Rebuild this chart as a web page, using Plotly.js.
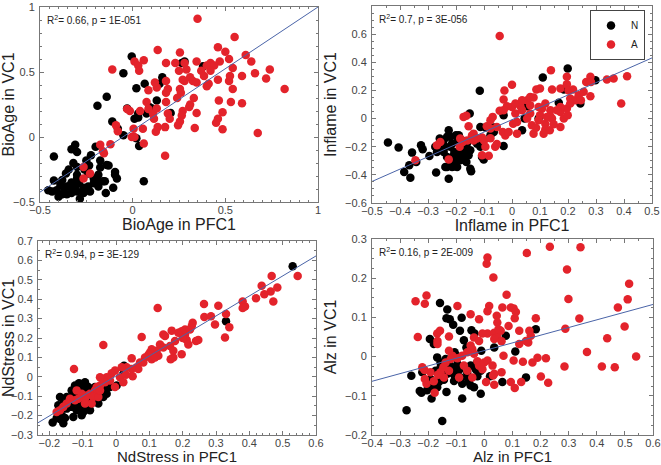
<!DOCTYPE html>
<html>
<head>
<meta charset="utf-8">
<script src="https://cdn.plot.ly/plotly-3.0.1.min.js"></script>
<style>html,body{margin:0;padding:0;background:#fff}#chart{width:661px;height:465px}</style>
</head>
<body>
<div id="chart"></div>
<script>
// ---------- Data ----------
const groupNames = ["N", "A"];
const panelTitlesX = ["BioAge in PFC1", "Inflame in PFC1", "NdStress in PFC1", "Alz in PFC1"];
const panelTitlesY = ["BioAge in VC1", "Inflame in VC1", "NdStress in VC1", "Alz in VC1"];
const statTexts = ["R<sup>2</sup>= 0.66, p = 1E-051", "R<sup>2</sup>= 0.7, p = 3E-056",
                   "R<sup>2</sup>= 0.94, p = 3E-129", "R<sup>2</sup>= 0.16, p = 2E-009"];

// Panel 1: BioAge
const bioAgeN = [[-0.005,0.62],[-0.05,0.49],[-0.14,0.31],[-0.19,0.24],[-0.03,0.22],[0.02,0.375],[0.065,0.41],[0.16,0.46],[0.145,0.41],[0.13,0.28],[0.09,0.23],[0.105,0.22],[0.075,0.18],[0.03,0.18],[0.01,0.14],[0.03,0.15],[0.205,0.185],[0.265,0.57],[0.28,0.58],[0.38,0.545],[-0.11,0.12],[-0.08,0.063],[-0.05,0.013],[0.02,-0.01],[0.035,-0.07],[0.06,-0.34],[-0.425,-0.15],[-0.31,-0.06],[-0.3,-0.115],[-0.33,-0.095],[-0.2,-0.075],[-0.225,-0.14],[-0.25,-0.18],[-0.32,-0.2],[-0.3,-0.23],[-0.26,-0.25],[-0.235,-0.22],[-0.175,-0.18],[-0.14,-0.215],[-0.13,-0.22],[-0.095,-0.27],[-0.095,-0.29],[-0.085,-0.32],[-0.15,-0.34],[-0.185,-0.29],[-0.21,-0.32],[-0.24,-0.28],[-0.3,-0.29],[-0.345,-0.25],[-0.36,-0.28],[-0.38,-0.33],[-0.425,-0.335],[-0.39,-0.37],[-0.41,-0.41],[-0.37,-0.39],[-0.345,-0.38],[-0.33,-0.35],[-0.31,-0.38],[-0.29,-0.355],[-0.265,-0.39],[-0.24,-0.38],[-0.21,-0.355],[-0.185,-0.38],[-0.16,-0.34],[-0.145,-0.43],[-0.105,-0.39],[-0.285,-0.475],[-0.355,-0.44],[-0.38,-0.44],[-0.33,-0.43],[-0.4,-0.46],[-0.3,-0.42],[-0.455,-0.41],[-0.435,-0.42],[-0.355,-0.38],[-0.265,-0.43],[-0.23,-0.42],[-0.185,-0.34],[-0.3,-0.32],[-0.175,-0.235]];
const bioAgeA = [[0.35,0.91],[0.55,0.77],[0.135,0.67],[0.255,0.65],[0.46,0.69],[0.5,0.655],[0.61,0.63],[0.64,0.58],[0.52,0.6],[0.54,0.53],[0.345,0.58],[0.42,0.57],[0.47,0.58],[0.4,0.55],[0.44,0.55],[0.23,0.57],[0.28,0.57],[0.01,0.58],[0.06,0.59],[0.03,0.55],[0.035,0.51],[-0.11,0.52],[0.18,0.57],[0.25,0.51],[0.29,0.52],[0.37,0.51],[0.42,0.51],[0.46,0.44],[0.52,0.43],[0.525,0.47],[0.59,0.47],[0.66,0.49],[0.74,0.52],[0.72,0.45],[0.82,0.37],[0.59,0.26],[0.53,0.27],[0.465,0.28],[0.485,0.19],[0.46,0.14],[0.45,0.11],[0.485,0.06],[0.675,0.03],[0.41,0.41],[0.4,0.39],[0.31,0.46],[0.325,0.43],[0.28,0.43],[0.18,0.43],[0.13,0.38],[0.085,0.36],[0.12,0.42],[0.19,0.37],[0.255,0.37],[0.26,0.34],[0.24,0.3],[0.33,0.3],[0.31,0.25],[0.305,0.23],[0.345,0.185],[0.335,0.07],[0.27,0.2],[0.265,0.165],[0.245,0.09],[0.255,0.12],[0.19,0.18],[0.2,0.14],[0.175,0.076],[0.11,0.18],[0.115,0.14],[0.135,0.076],[0.125,0.04],[0.075,0.27],[0.085,0.215],[0.13,0.22],[0.18,0.27],[0.18,0.34],[0.055,0.063],[0.005,0.063],[-0.005,0.0],[0.01,0.0],[0.06,-0.05],[0.175,-0.145],[0.04,0.2],[-0.015,0.2],[-0.03,0.215],[-0.09,0.09],[-0.08,0.045],[-0.12,-0.055],[-0.16,-0.11],[-0.155,-0.125],[-0.175,-0.06],[-0.23,-0.28],[-0.265,-0.32],[-0.265,-0.23],[0.27,0.44],[0.385,0.47],[0.345,0.42],[0.54,0.37]];
const bioAgeFit = [[-0.5,-0.424],[1.0,1.0]];

// Panel 2: Inflame
const inflameN = [[-0.115,0.197],[-0.151,0.036],[-0.03,0.024],[0.054,0.088],[0.11,0.292],[0.199,0.356],[0.185,0.206],[0.167,0.112],[0.298,0.273],[0.244,0.107],[0.095,0.0],[0.045,0.0],[0.036,-0.083],[-0.03,-0.195],[-0.065,-0.064],[-0.095,-0.064],[-0.113,-0.06],[-0.443,-0.17],[-0.405,-0.206],[-0.357,-0.242],[-0.325,-0.19],[-0.319,-0.218],[-0.342,-0.308],[-0.367,-0.332],[-0.385,-0.38],[-0.363,-0.42],[-0.295,-0.266],[-0.271,-0.384],[-0.262,-0.22],[-0.244,-0.154],[-0.238,-0.2],[-0.226,-0.083],[-0.22,-0.13],[-0.2,-0.119],[-0.196,-0.166],[-0.206,-0.237],[-0.22,-0.2],[-0.214,-0.273],[-0.214,-0.344],[-0.208,-0.34],[-0.196,-0.344],[-0.188,-0.249],[-0.19,-0.29],[-0.232,-0.273],[-0.244,-0.237],[-0.179,-0.214],[-0.173,-0.237],[-0.161,-0.178],[-0.167,-0.2],[-0.149,-0.225],[-0.155,-0.261],[-0.149,-0.356],[-0.146,-0.375],[-0.163,-0.308],[-0.137,-0.154],[-0.125,-0.178],[-0.113,-0.2],[-0.107,-0.273],[-0.101,-0.29],[-0.232,-0.13],[-0.258,-0.142],[-0.25,-0.178],[-0.214,-0.178],[-0.19,-0.119],[-0.179,-0.154],[-0.232,-0.344],[-0.211,-0.316],[-0.185,-0.297],[-0.161,-0.237],[-0.179,-0.273],[-0.238,-0.344],[-0.274,-0.2],[-0.268,-0.237],[-0.226,-0.427],[-0.077,-0.119],[-0.065,-0.095]];
const inflameA = [[-0.044,0.586],[0.0,0.24],[-0.027,0.2],[-0.03,0.135],[-0.044,0.055],[-0.173,0.012],[-0.163,0.02],[-0.155,-0.055],[-0.09,-0.055],[-0.077,-0.07],[-0.137,-0.107],[-0.107,-0.135],[-0.1,-0.155],[-0.077,-0.14],[-0.06,-0.2],[-0.054,-0.18],[-0.095,-0.2],[-0.083,-0.265],[-0.107,-0.26],[-0.16,-0.155],[-0.176,-0.166],[-0.187,-0.2],[-0.226,-0.29],[-0.256,-0.166],[-0.268,-0.19],[-0.345,-0.297],[-0.143,-0.12],[-0.033,-0.095],[-0.024,-0.12],[-0.012,-0.095],[0.004,-0.036],[0.018,-0.024],[0.012,0.036],[0.0,0.083],[-0.018,0.088],[0.03,0.088],[0.036,0.06],[0.054,0.13],[0.065,0.154],[0.077,0.15],[0.087,0.206],[0.1,0.214],[0.107,0.07],[0.1,0.024],[0.095,0.083],[0.065,0.036],[0.054,0.0],[0.071,-0.047],[0.077,-0.107],[0.086,-0.066],[0.119,-0.036],[0.119,-0.078],[0.137,0.017],[0.143,0.0],[0.137,0.06],[0.173,0.047],[0.185,0.0],[0.196,0.071],[0.199,0.024],[0.173,0.083],[0.139,0.344],[0.143,0.206],[0.173,0.214],[0.196,0.297],[0.196,0.244],[0.202,0.2],[0.208,0.142],[0.226,0.13],[0.218,0.206],[0.238,0.166],[0.246,0.13],[0.256,0.19],[0.265,0.26],[0.28,0.297],[0.282,0.26],[0.28,0.159],[0.339,0.278],[0.363,0.285],[0.411,0.3],[0.39,0.107],[0.012,0.107],[0.036,0.13],[0.125,0.012],[0.135,-0.083],[0.113,-0.107],[0.018,-0.107],[-0.077,-0.012],[-0.069,0.012],[-0.125,-0.142],[-0.137,-0.155],[-0.185,-0.142],[-0.054,-0.06],[0.065,0.095],[0.119,0.107],[0.161,0.06],[0.208,0.107],[0.173,-0.06],[0.149,-0.04],[0.095,-0.012],[-0.03,0.06]];
const inflameFit = [[-0.5,-0.447],[0.5,0.431]];

// Panel 3: NdStress
const ndStressN = [[0.53,0.57],[0.33,0.286],[-0.19,-0.235],[-0.168,-0.218],[-0.163,-0.198],[-0.153,-0.212],[-0.111,-0.033],[-0.093,-0.028],[-0.123,-0.045],[-0.103,-0.053],[-0.083,-0.053],[-0.133,-0.07],[-0.118,-0.087],[-0.108,-0.104],[-0.128,-0.096],[-0.143,-0.121],[-0.098,-0.07],[-0.088,-0.079],[-0.073,-0.07],[-0.063,-0.053],[-0.038,-0.062],[-0.028,-0.087],[-0.113,-0.138],[-0.103,-0.155],[-0.118,-0.172],[-0.098,-0.181],[-0.078,-0.172],[-0.133,-0.155],[-0.148,-0.164],[-0.173,-0.147],[-0.158,-0.138],[-0.168,-0.104],[-0.148,-0.104],[-0.083,-0.121],[-0.068,-0.13],[-0.053,-0.138],[-0.038,-0.104],[-0.018,-0.053],[0.002,-0.045],[0.022,0.015],[0.024,0.057],[-0.158,-0.24],[-0.178,-0.212],[-0.088,-0.155],[-0.128,-0.207],[-0.103,-0.198]];
const ndStressA = [[0.125,0.355],[-0.038,0.164],[-0.126,0.04],[0.077,0.205],[0.264,0.375],[0.307,0.366],[0.265,0.308],[0.285,0.312],[0.297,0.27],[0.34,0.256],[0.327,0.202],[0.33,0.324],[0.38,0.388],[0.387,0.363],[0.38,0.355],[0.42,0.405],[0.437,0.469],[0.445,0.426],[0.467,0.52],[0.464,0.44],[0.472,0.388],[0.484,0.46],[0.545,0.52],[0.142,0.218],[0.147,0.21],[0.167,0.238],[0.172,0.1],[0.164,0.09],[0.197,0.116],[0.177,0.184],[0.187,0.227],[0.197,0.235],[0.207,0.218],[0.212,0.19],[0.2,0.2],[0.207,0.244],[0.222,0.244],[0.227,0.26],[0.23,0.278],[0.217,0.167],[0.24,0.184],[0.247,0.19],[0.162,0.159],[0.132,0.167],[0.122,0.134],[0.127,0.108],[0.107,0.142],[0.102,0.125],[0.097,0.113],[0.087,0.1],[0.082,0.074],[0.072,0.074],[0.062,0.049],[0.067,0.04],[0.047,0.095],[0.047,0.04],[0.05,0.003],[0.032,0.049],[0.017,0.049],[-0.003,0.032],[-0.013,0.018],[-0.003,-0.053],[-0.018,-0.019],[-0.028,-0.002],[-0.038,-0.019],[-0.048,-0.045],[-0.058,-0.053],[-0.063,-0.07],[-0.078,-0.087],[-0.088,-0.096],[-0.093,-0.113],[-0.068,-0.104],[-0.053,-0.104],[-0.103,-0.087],[-0.113,-0.113],[-0.123,-0.121],[-0.138,-0.113],[-0.148,-0.138],[-0.158,-0.155],[-0.168,-0.172],[-0.178,-0.181],[-0.073,-0.138],[-0.093,-0.138],[-0.048,-0.07],[-0.033,-0.028],[0.012,-0.002],[0.022,-0.028],[0.107,0.091],[0.117,0.1],[0.142,0.151],[0.172,0.134],[0.03,0.011],[-0.118,-0.07],[-0.048,-0.002]];
const ndStressFit = [[-0.234,-0.237],[0.6,0.623]];

// Panel 4: Alz
const alzN = [[-0.158,0.137],[-0.132,0.12],[-0.135,0.098],[-0.123,0.095],[-0.111,0.081],[-0.081,0.099],[-0.087,0.066],[-0.194,0.045],[-0.18,0.032],[-0.046,0.067],[-0.035,0.059],[-0.011,0.015],[-0.073,0.042],[-0.064,0.023],[0.035,0.023],[0.076,0.053],[0.11,0.013],[0.148,-0.053],[0.183,0.07],[0.064,-0.065],[0.02,-0.05],[-0.013,-0.095],[-0.079,-0.107],[-0.135,-0.09],[-0.15,-0.164],[-0.277,-0.137],[-0.26,-0.049],[-0.23,-0.088],[-0.224,-0.092],[-0.188,-0.107],[-0.189,-0.08],[-0.168,-0.078],[-0.162,-0.065],[-0.144,-0.059],[-0.108,-0.062],[-0.108,-0.046],[-0.085,-0.053],[-0.079,-0.069],[-0.055,-0.065],[-0.049,-0.074],[-0.037,-0.078],[-0.025,-0.05],[-0.061,-0.053],[-0.061,-0.042],[-0.156,-0.015],[-0.168,-0.002],[-0.138,-0.006],[-0.126,-0.019],[-0.114,-0.027],[-0.096,-0.019],[-0.09,-0.034],[-0.106,0.011],[-0.099,0.002],[-0.156,-0.027],[-0.174,-0.036],[-0.192,-0.057],[-0.221,-0.04],[-0.132,-0.044],[-0.049,-0.023],[-0.031,-0.032],[-0.013,-0.036],[-0.027,-0.017],[-0.204,-0.086]];
const alzA = [[-0.245,0.141],[-0.237,0.05],[-0.212,0.135],[-0.206,0.156],[0.008,0.237],[0.011,0.253],[0.032,0.202],[0.151,0.264],[0.233,0.28],[0.342,0.279],[0.294,0.222],[0.299,0.147],[0.515,0.186],[0.51,0.146],[0.475,0.125],[0.338,0.097],[0.288,0.071],[0.499,0.077],[0.437,0.047],[0.365,0.012],[0.54,0.0],[0.418,-0.025],[0.464,-0.027],[0.285,-0.025],[0.227,-0.067],[0.201,-0.051],[0.219,-0.004],[0.189,-0.003],[0.171,-0.015],[0.137,-0.013],[0.104,-0.01],[0.108,-0.08],[0.094,-0.065],[0.131,-0.065],[0.035,-0.072],[0.031,-0.048],[0.006,-0.065],[0.079,0.158],[0.064,0.125],[0.094,0.125],[0.104,0.123],[0.108,0.098],[0.086,0.078],[0.044,0.104],[0.046,0.087],[0.017,0.129],[0.011,0.116],[-0.019,0.095],[-0.049,0.108],[-0.096,0.129],[-0.126,0.051],[-0.158,0.066],[-0.167,0.04],[-0.167,0.032],[0.011,0.059],[0.035,0.061],[0.046,0.05],[0.058,0.066],[0.05,0.07],[0.035,0.045],[0.061,0.039],[0.124,0.032],[0.16,0.066],[0.156,0.036],[0.148,0.04],[0.183,0.098],[0.124,0.066],[-0.007,0.059],[-0.037,0.049],[-0.049,0.028],[-0.043,0.019],[-0.037,0.007],[-0.025,-0.012],[-0.019,-0.023],[-0.001,-0.015],[0.011,-0.01],[-0.007,-0.032],[0.029,-0.023],[0.068,0.002],[0.061,-0.04],[0.035,-0.044],[-0.061,0.011],[-0.079,0.002],[-0.096,-0.004],[-0.114,0.002],[-0.126,0.015],[-0.12,-0.006],[-0.138,-0.015],[-0.146,-0.027],[-0.126,-0.036],[-0.156,-0.04],[-0.144,-0.053],[-0.165,-0.046],[-0.192,-0.04],[-0.212,-0.057],[-0.206,-0.069],[-0.18,-0.063],[-0.177,-0.092],[-0.09,-0.053],[-0.073,-0.023],[-0.061,-0.036],[-0.043,-0.053],[-0.221,-0.027],[-0.213,-0.034],[-0.168,0.059],[-0.019,0.04],[0.112,0.114],[0.165,0.053]];
const alzFit = [[-0.4,-0.063],[0.6,0.133]];

// ---------- Build ----------
const colorN = "#000000", colorA = "#e3232b", fitColor = "#4a64a8";
const panels = [
  {N: bioAgeN, A: bioAgeA, fit: bioAgeFit},
  {N: inflameN, A: inflameA, fit: inflameFit},
  {N: ndStressN, A: ndStressA, fit: ndStressFit},
  {N: alzN, A: alzA, fit: alzFit}
];
const font = "Liberation Sans, Arial, sans-serif";
const traces = [];
panels.forEach((p, i) => {
  const xa = i === 0 ? "x" : "x" + (i + 1);
  const ya = i === 0 ? "y" : "y" + (i + 1);
  [["N", p.N, colorN], ["A", p.A, colorA]].forEach(([name, arr, col]) => {
    traces.push({
      type: "scatter", mode: "markers", name: name, legendgroup: name,
      showlegend: i === 0, xaxis: xa, yaxis: ya,
      x: arr.map(d => d[0]), y: arr.map(d => d[1]),
      marker: {color: col, size: 8.5, line: {width: 0}}
    });
  });
  traces.push({
    type: "scatter", mode: "lines", showlegend: false, xaxis: xa, yaxis: ya,
    x: p.fit.map(d => d[0]), y: p.fit.map(d => d[1]),
    line: {color: fitColor, width: 1}, hoverinfo: "skip"
  });
});

function ax(domain, range, dtick, minorDtick, title, anchor, standoff, isX, titleSize) {
  const a = {
    domain: domain, range: range, dtick: dtick, tick0: 0, anchor: anchor,
    showgrid: false, zeroline: false, showline: true, linecolor: "#777", linewidth: 1,
    mirror: "ticks", ticks: "inside", ticklen: 4, tickcolor: "#777",
    minor: {dtick: minorDtick, ticks: "inside", ticklen: 2, tickcolor: "#777", showgrid: false},
    tickfont: {family: font, size: 11, color: "#444"},
    title: {text: title, font: {family: font, size: titleSize || 16, color: "#222"}, standoff: standoff},
    ticklabelstandoff: isX ? -2 : 2
  };
  return a;
}
const W = 661, H = 465;
const M = {l: 0, r: 0, t: 0, b: 30};
const PW = W - M.l - M.r, PH = H - M.t - M.b;
const px = (a, b) => [(a - M.l) / PW, (b - M.l) / PW];
const py = (top, bot) => [(H - M.b - bot) / PH, (H - M.b - top) / PH];

const layout = {
  width: W, height: H, margin: M,
  paper_bgcolor: "#fff", plot_bgcolor: "#fff",
  font: {family: font},
  xaxis:  ax(px(40, 318),  [-0.5, 1],    0.5, 0.05,  panelTitlesX[0], "y",  0, true),
  yaxis:  ax(py(7, 202),   [-0.5, 1],    0.5, 0.1,   panelTitlesY[0], "x",  4, false),
  xaxis2: ax(px(372, 652), [-0.5, 0.5],  0.1, 0.05,  panelTitlesX[1], "y2", 0, true),
  yaxis2: ax(py(6, 203),   [-0.6, 0.8],  0.2, 0.05,  panelTitlesY[1], "x2", 4, false),
  xaxis3: ax(px(38, 316),  [-0.234, 0.6],0.1, 0.02,  panelTitlesX[2], "y3", 0, true, 15),
  yaxis3: ax(py(241, 437), [-0.3, 0.7],  0.1, 0.05,  panelTitlesY[2], "x3", 4, false),
  xaxis4: ax(px(372, 653), [-0.4, 0.6],  0.1, 0.05,  panelTitlesX[3], "y4", 0, true, 15),
  yaxis4: ax(py(239, 437), [-0.2, 0.3],  0.1, 0.025, panelTitlesY[3], "x4", 4, false),
  showlegend: true,
  legend: {
    x: (645 - M.l) / PW, y: (H - M.b - 10) / PH, xanchor: "right", yanchor: "top",
    bgcolor: "#fff", bordercolor: "#444", borderwidth: 1,
    font: {family: font, size: 10, color: "#222"},
    itemwidth: 30, tracegroupgap: 0, itemsizing: "trace"
  },
  annotations: statTexts.map((t, i) => ({
    text: t, showarrow: false,
    xref: (i === 0 ? "x" : "x" + (i + 1)) + " domain",
    yref: (i === 0 ? "y" : "y" + (i + 1)) + " domain",
    x: 0, y: 1, xanchor: "left", yanchor: "middle", xshift: 5, yshift: -13,
    font: {family: font, size: 10, color: "#222"}
  }))
};

Plotly.newPlot("chart", traces, layout, {displayModeBar: false, staticPlot: true});
</script>
</body>
</html>
